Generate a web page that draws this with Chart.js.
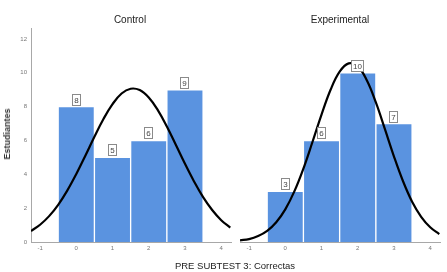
<!DOCTYPE html>
<html>
<head>
<meta charset="utf-8">
<script src="https://cdn.jsdelivr.net/npm/chart.js@4"></script>
<style>
  body { margin: 0; background: #fff; width: 447px; height: 272px; position: relative; overflow: hidden; font-family: "Liberation Sans", Arial, sans-serif; }
  canvas { position: absolute; top: 0; }
  #cControl { left: 0; }
  #cExperimental { left: 209px; }
  .txt { position: absolute; color: #222; white-space: nowrap; }
  #tControl { left: 130px; top: 14px; transform: translateX(-50%); font-size: 10px; }
  #tExperimental { left: 340px; top: 14px; transform: translateX(-50%); font-size: 10px; }
  #yLabel { left: 7px; top: 134px; transform: translate(-50%, -50%) rotate(-90deg); font-size: 9px; font-weight: bold; color: #333; }
  #xLabel { left: 235px; top: 260px; transform: translateX(-50%); font-size: 9.5px; color: #222; }
</style>
</head>
<body>
<canvas id="cControl" width="232" height="272"></canvas>
<canvas id="cExperimental" width="232" height="272"></canvas>
<div class="txt" id="tControl">Control</div>
<div class="txt" id="tExperimental">Experimental</div>
<div class="txt" id="yLabel">Estudiantes</div>
<div class="txt" id="xLabel">PRE SUBTEST 3: Correctas</div>
<script>
// scores (x) and number of students per score
let scores = [0, 1, 2, 3];
let controlCounts = [8, 5, 6, 9];
let experimentalCounts = [3, 6, 10, 7];

// axis ticks
let xTicks = [-1, 0, 1, 2, 3, 4];
let yTicks = [0, 2, 4, 6, 8, 10, 12];

// normal curve, every 0.25 from -1.25 to 4.25
let curveX = [-1.25, -1, -0.75, -0.5, -0.25, 0, 0.25, 0.5, 0.75, 1, 1.25, 1.5,
              1.75, 2, 2.25, 2.5, 2.75, 3, 3.25, 3.5, 3.75, 4, 4.25];
let controlCurve = [0.65, 1.02, 1.53, 2.20, 3.04, 4.02, 5.10, 6.22, 7.27, 8.15, 8.78, 9.06,
                    8.98, 8.54, 7.80, 6.83, 5.73, 4.62, 3.58, 2.65, 1.89, 1.29, 0.85];
let experimentalCurve = [0.10, 0.17, 0.35, 0.66, 1.17, 1.93, 2.99, 4.34, 5.91, 7.53, 9.00, 10.07,
                         10.56, 10.38, 9.56, 8.25, 6.67, 5.05, 3.59, 2.38, 1.49, 0.87, 0.47];

const barBlue = '#5a93e0';
const axisGrey = '#a8a8a8';

// little boxed count above each bar
const barLabels = {
    id: 'barLabels',
    afterDatasetsDraw(chart) {
        let ctx = chart.ctx;
        let meta = chart.getDatasetMeta(1);
        ctx.save();
        ctx.font = '8px "Liberation Sans", Arial, sans-serif';
        ctx.textAlign = 'center';
        ctx.textBaseline = 'middle';
        meta.data.forEach((bar, i) => {
            let label = String(chart.data.datasets[1].data[i].y);
            let w = Math.max(9, Math.ceil(ctx.measureText(label).width) + 4), h = 12;
            let x = Math.round(bar.x - w / 2), y = Math.round(bar.y - h - 1);
            ctx.fillStyle = '#fff';
            ctx.fillRect(x, y, w, h);
            ctx.strokeStyle = '#8a8a8a';
            ctx.lineWidth = 1;
            ctx.strokeRect(x + 0.5, y + 0.5, w - 1, h - 1);
            ctx.fillStyle = '#444';
            ctx.fillText(label, x + w / 2, y + h / 2 + 0.5);
        });
        ctx.restore();
    }
};

function makeChart(id, counts, curve, showY) {
    let ctx = document.getElementById(id).getContext('2d');
    return new Chart(ctx, {
        type: 'bar',
        data: {
            datasets: [{
                type: 'line',
                data: curveX.map((x, i) => ({ x: x, y: curve[i] })),
                borderColor: '#000',
                borderWidth: 2.2,
                pointRadius: 0,
                tension: 0.4,
                fill: false,
                order: 0
            }, {
                type: 'bar',
                data: scores.map((x, i) => ({ x: x, y: counts[i] })),
                backgroundColor: barBlue,
                borderColor: '#fff',
                borderWidth: 1,
                borderSkipped: 'bottom',
                barPercentage: 1,
                categoryPercentage: 1,
                order: 1
            }]
        },
        options: {
            responsive: false,
            animation: false,
            layout: { padding: { top: 28, bottom: 10, left: 0, right: 1 } },
            plugins: { legend: { display: false }, tooltip: { enabled: false } },
            scales: {
                x: {
                    type: 'linear',
                    offset: false,
                    min: -1.25,
                    max: 4.27,
                    afterBuildTicks: s => { s.ticks = xTicks.map(v => ({ value: v })); },
                    afterFit: s => { s.height = 20; },
                    grid: { display: false, drawTicks: false },
                    border: { color: axisGrey, width: 1 },
                    ticks: { color: '#777', font: { size: 6 }, padding: 3, maxRotation: 0 }
                },
                y: {
                    display: showY,
                    min: 0,
                    max: 12.65,
                    afterBuildTicks: s => { s.ticks = yTicks.map(v => ({ value: v })); },
                    afterFit: s => { s.width = 31; },
                    grid: { display: false, drawTicks: false },
                    border: { color: axisGrey, width: 1 },
                    ticks: { color: '#777', font: { size: 6 }, padding: 4 }
                }
            }
        },
        plugins: [barLabels]
    });
}

makeChart('cControl', controlCounts, controlCurve, true);
makeChart('cExperimental', experimentalCounts, experimentalCurve, false);
</script>
</body>
</html>
